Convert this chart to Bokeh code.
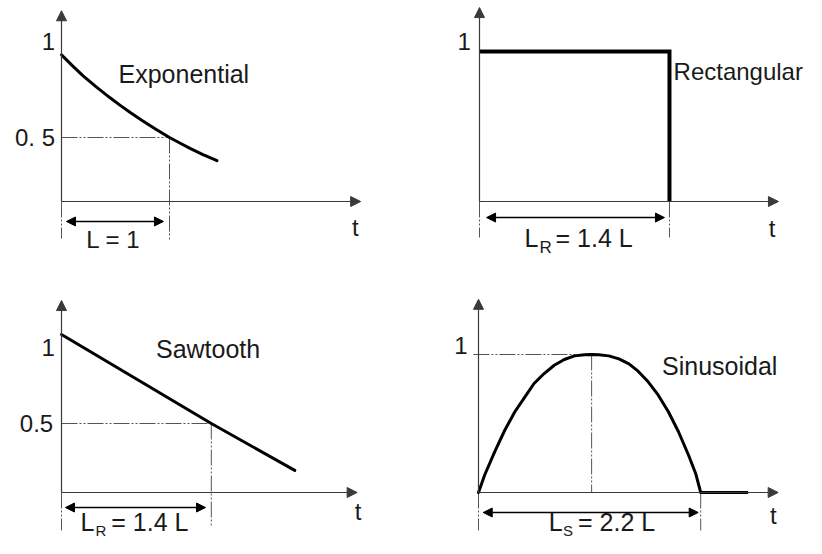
from bokeh.plotting import figure
from bokeh.layouts import gridplot
from bokeh.models import Arrow, NormalHead, Range1d
from bokeh.embed import file_html
from bokeh.resources import INLINE
from bokeh.core.properties import value

# ---------------- data ----------------
exp_t = [0, 0.1, 0.2, 0.33, 0.45, 0.55, 0.64, 0.75, 0.87, 1.0, 1.1, 1.19, 1.31, 1.44]
exp_y = [1.146, 1.062, 0.982, 0.89, 0.81, 0.747, 0.693, 0.631, 0.567, 0.5, 0.455, 0.415, 0.367, 0.319]

rect_t = [0, 1.4, 1.4]
rect_y = [1.0, 1.0, 0.0]

saw_t = [0, 1.4, 2.18]
saw_y = [1.145, 0.5, 0.16]

sin_t = [0, 0.06, 0.16, 0.26, 0.36, 0.46, 0.55, 0.65, 0.75, 0.85, 0.95, 1.05, 1.12,
         1.19, 1.29, 1.39, 1.49, 1.58, 1.68, 1.78, 1.88, 1.98, 2.08, 2.15, 2.2]
sin_y = [0, 0.125, 0.295, 0.451, 0.585, 0.693, 0.79, 0.862, 0.922, 0.964, 0.99, 0.999, 1.0,
         0.998, 0.99, 0.968, 0.932, 0.879, 0.802, 0.705, 0.585, 0.44, 0.27, 0.138, 0]
sin_peak_t = 1.12
tail_t = [2.2, 2.67]
tail_y = [0, 0]

lengths = [1.0, 1.4, 1.4, 2.2]          # L, L_R, L_R, L_S
titles = ["Exponential", "Rectangular", "Sawtooth", "Sinusoidal"]
len_main = ["L = 1", "L", "L", "L"]
len_sub = ["", "R", "R", "S"]
len_rest = ["", "= 1.4 L", "= 1.4 L", "= 2.2 L"]

FONT = value("Liberation Sans")
TXT = "#1a1a1a"
AX = "#3a3a3a"
DASH = "#555555"
DASH_PAT = "16 2 2 2 2 2"


def panel(left, top, w, h, ox, oy, sx, sy):
    p = figure(width=w, height=h,
               x_range=Range1d(-(ox - left) / sx, (left + w - ox) / sx),
               y_range=Range1d(-(top + h - oy) / sy, (oy - top) / sy),
               x_axis_type=None, y_axis_type=None,
               toolbar_location=None, output_backend="svg",
               min_border=0, outline_line_color=None,
               background_fill_color="white", border_fill_color="white")
    return p


def axes(p, xtip, ytip):
    for xe, ye in [(xtip, 0), (0, ytip)]:
        p.add_layout(Arrow(end=NormalHead(size=10, fill_color=AX, line_color=AX),
                           x_start=0, y_start=0, x_end=xe, y_end=ye,
                           line_color=AX, line_width=1.2))


def dim_arrow(p, x0, x1, y):
    p.add_layout(Arrow(start=NormalHead(size=9, fill_color="black", line_color="black"),
                       end=NormalHead(size=9, fill_color="black", line_color="black"),
                       x_start=x0, y_start=y, x_end=x1, y_end=y,
                       line_color="black", line_width=1.6))


def dashed(p, xs, ys):
    p.line(xs, ys, line_color=DASH, line_width=1, line_dash=DASH_PAT)


def txt(p, x, y, s, size="24px", align="left"):
    p.text(x=[x], y=[y], text=[s], text_font=FONT, text_font_size=size,
           text_align=align, text_baseline="middle", text_color=TXT)


# ---------------- Exponential ----------------
p1 = panel(0, 0, 411, 277, 61, 201, 108, 128)
axes(p1, 2.77, 1.49)
L = lengths[0]
dashed(p1, [0, L], [0.5, 0.5])
dashed(p1, [L, L], [0.5, -0.305])
dashed(p1, [0, 0], [0, -0.29])
p1.line(exp_t, exp_y, line_color="black", line_width=3, line_join="round", line_cap="round")
dim_arrow(p1, 0.046, L - 0.056, -0.156)
txt(p1, 0.48, -0.30, len_main[0], align="center")
txt(p1, 2.72, -0.20, "t", align="center")
txt(p1, -0.06, 1.25, "1", align="right")
txt(p1, -0.06, 0.5, "0. 5", align="right")
txt(p1, 0.528, 1.0, titles[0], size="25px")

# ---------------- Rectangular ----------------
p2 = panel(411, 0, 395, 277, 479, 201, 135.7, 150)
axes(p2, 2.203, 1.293)
L = lengths[1]
dashed(p2, [0, 0], [0, -0.24])
dashed(p2, [L, L], [0, -0.24])
p2.line(rect_t, rect_y, line_color="black", line_width=4, line_join="miter")
dim_arrow(p2, 0.052, L - 0.037, -0.107)
txt(p2, 0.332, -0.243, len_main[1], size="25px")
txt(p2, 0.442, -0.305, len_sub[1], size="17px")
txt(p2, 0.560, -0.243, len_rest[1], size="25px")
txt(p2, 2.156, -0.18, "t", align="center")
txt(p2, -0.063, 1.07, "1", align="right")
txt(p2, 1.43, 0.868, titles[1], size="24px")

# ---------------- Sawtooth ----------------
p3 = panel(0, 277, 411, 261, 61, 492, 107, 138)
axes(p3, 2.763, 1.391)
L = lengths[2]
dashed(p3, [0, L], [0.5, 0.5])
dashed(p3, [L, L], [0.5, -0.239])
dashed(p3, [0, 0], [0, -0.275])
p3.line(saw_t, saw_y, line_color="black", line_width=3, line_cap="round")
dim_arrow(p3, 0.037, L - 0.054, -0.109)
txt(p3, 0.178, -0.217, len_main[2], size="25px")
txt(p3, 0.318, -0.275, len_sub[2], size="15px")
txt(p3, 0.465, -0.217, len_rest[2], size="25px")
txt(p3, 2.771, -0.138, "t", align="center")
txt(p3, -0.062, 1.051, "1", align="right")
txt(p3, -0.078, 0.5, "0.5", align="right")
txt(p3, 0.883, 1.038, titles[2], size="25px")

# ---------------- Sinusoidal ----------------
p4 = panel(411, 277, 395, 261, 478, 492, 101, 138)
axes(p4, 2.967, 1.40)
L = lengths[3]
dashed(p4, [-0.05, sin_peak_t], [1.0, 1.0])
dashed(p4, [sin_peak_t, sin_peak_t], [1.0, 0])
dashed(p4, [0, 0], [0, -0.275])
dashed(p4, [L, L], [0, -0.275])
p4.line(sin_t, sin_y, line_color="black", line_width=3, line_join="round", line_cap="round")
p4.line(tail_t, tail_y, line_color="black", line_width=3)
dim_arrow(p4, 0.047, L - 0.025, -0.145)
txt(p4, 0.695, -0.217, len_main[3], size="25px")
txt(p4, 0.837, -0.275, len_sub[3], size="15px")
txt(p4, 0.985, -0.217, len_rest[3], size="25px")
txt(p4, 2.92, -0.167, "t", align="center")
txt(p4, -0.109, 1.065, "1", align="right")
txt(p4, 1.817, 0.918, titles[3], size="25px")

grid = gridplot([[p1, p2], [p3, p4]], toolbar_location=None)
open("out.html", "w").write(file_html(grid, INLINE))
